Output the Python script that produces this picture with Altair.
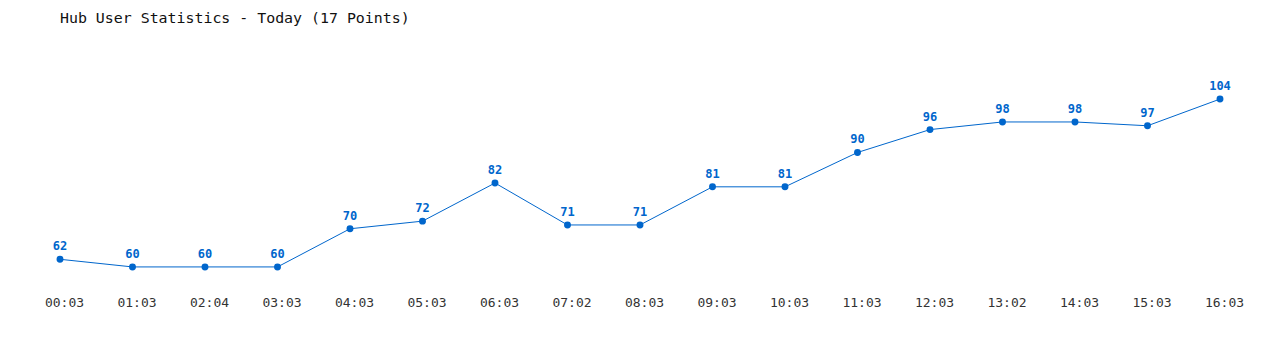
import altair as alt
import pandas as pd

times = ["00:03", "01:03", "02:04", "03:03", "04:03", "05:03", "06:03", "07:02",
         "08:03", "09:03", "10:03", "11:03", "12:03", "13:02", "14:03", "15:03", "16:03"]
users = [62, 60, 60, 60, 70, 72, 82, 71, 71, 81, 81, 90, 96, 98, 98, 97, 104]

df = pd.DataFrame({"time": times, "users": users})

BLUE = "#0066CC"
FONT = "DejaVu Sans Mono"

x = alt.X("time:O", sort=None, title=None,
          scale=alt.Scale(type="point", padding=0),
          axis=alt.Axis(labelAngle=0, domain=False, ticks=False, labelPadding=10, labelOffset=4,
                        labelFont=FONT, labelFontSize=13, labelColor="#333333", grid=False))
y = alt.Y("users:Q", title=None, scale=alt.Scale(domain=[55, 109], zero=False, nice=False), axis=None)

base = alt.Chart(df).encode(x=x, y=y)

line = base.mark_line(color=BLUE, strokeWidth=1)
pts = base.mark_circle(color=BLUE, size=48, opacity=1)
labels = base.mark_text(color=BLUE, dy=-13, font=FONT, fontSize=12, fontWeight="bold").encode(text="users:Q")

chart = (line + pts + labels).properties(
    width=1160, height=206,
    autosize=alt.AutoSizeParams(type="none"),
    padding={"left": 60, "top": 80, "right": 60, "bottom": 64},
    title=alt.TitleParams("Hub User Statistics - Today (17 Points)", anchor="start", frame="group",
                          font=FONT, fontSize=14.9, fontWeight="normal", color="#111111",
                          offset=54),
).configure_view(stroke=None)

chart.save("out.html", embed_options={"renderer": "svg", "actions": False})
